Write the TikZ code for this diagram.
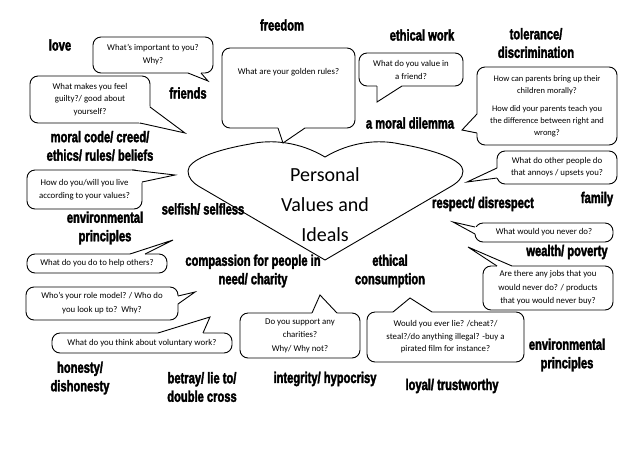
\documentclass[tikz,border=0pt]{standalone}
\usepackage{fontspec}
\setmainfont{Carlito}
\newfontfamily\kwfont{Liberation Sans}[FakeStretch=0.72,FakeBold=2.2]
\usetikzlibrary{calc}
\tikzset{
  kw/.style={font=\kwfont\bfseries\fontsize{15.5}{18.5}\selectfont, align=center, inner sep=0pt},
  qbox/.style={draw, line width=0.9pt, rounded corners=8pt, fill=white, align=center, inner sep=0pt,
    font=\fontsize{8.8}{13}\selectfont},
  qtext/.style={align=center, inner sep=0pt, font=\fontsize{8.8}{13}\selectfont},
  qline/.style={line width=0.9pt, line join=miter},
  heartline/.style={line width=0.9pt, fill=white}
}
\newcommand\qptr[4]{%
  \fill[white] (#1) -- (#2) -- (#3) -- ($(#3)+(#4)$) -- ($(#1)+(#4)$) -- cycle;
  \draw[qline] (#1) -- (#2) -- (#3);}
\begin{document}
\begin{tikzpicture}[x=1pt,y=-1pt]
\useasboundingbox (0,0) rectangle (638,451);
\fill[white] (0,0) rectangle (638,451);

% heart
\draw[heartline] (325,157) .. controls (300,142) and (272,139) .. (250,144)
  .. controls (215,150) and (188,160) .. (188,171)
  .. controls (188,178) and (193,183) .. (200,187)
  -- (325,260) -- (450,187)
  .. controls (457,183) and (463,178) .. (463,171)
  .. controls (463,160) and (435,150) .. (400,144)
  .. controls (378,139) and (350,142) .. (325,157) -- cycle;
\node[align=center, inner sep=0pt, font=\fontsize{20}{30}\selectfont] (title) at (325,205)
  {Personal\\Values and\\Ideals};

% callouts
\node[qbox, minimum width=120, minimum height=36] (q1) at (153,55) {What’s important to you?\\Why?};
\qptr{188,73}{208,81}{201,73}{0,-2}

\node[qbox, minimum width=120, minimum height=47, font=\fontsize{8.8}{12.5}\selectfont] (q2) at (90,99.5) {What makes you feel\\guilty?/ good about\\yourself?};
\qptr{150,107}{185,133}{140,123}{-2,-2}

\node[qbox, minimum width=133, minimum height=80] (q3) at (288.5,88) {};
\node[qtext] (q3t) at (288.5,72) {What are your golden rules?};
\qptr{278,128}{283,143}{305,128}{0,-2}

\node[qbox, minimum width=104, minimum height=33] (q4) at (411,69.5) {What do you value in\\a friend?};
\qptr{377,86}{377,102}{402,86}{0,-2}

\node[qbox, minimum width=140, minimum height=78, font=\fontsize{8.5}{12}\selectfont] (q5) at (547,106)
  {How can parents bring up their\\children morally?\\[6pt]How did your parents teach you\\the difference between right and\\wrong?};
\qptr{477,114}{462,130}{477,133}{2,0}

\node[qbox, minimum width=120, minimum height=33, font=\fontsize{8.8}{12}\selectfont] (q6) at (557,167.5) {What do other people do\\that annoys / upsets you?};
\qptr{497,168}{467,182}{497,178}{2,0}

\node[qbox, minimum width=138, minimum height=19] (q7) at (544,232.5) {What would you never do?};
\qptr{475,227}{453,222}{475,234}{2,0}

\node[qbox, minimum width=130, minimum height=44, font=\fontsize{8.8}{13.5}\selectfont] (q8) at (548,288) {Are there any jobs that you\\would never do? / products\\that you would never buy?};
\qptr{497,266}{468,247}{512,266}{0,2}

\node[qbox, minimum width=115, minimum height=39] (q9) at (84.5,189.5) {How do you/will you live\\according to your values?};
\qptr{132,170}{175,175}{142,182}{-2,2}

\node[qbox, minimum width=140, minimum height=19] (q10) at (97,263.5) {What do you do to help others?};
\qptr{130,254}{173,240}{145,254}{0,2}

\node[qbox, minimum width=152, minimum height=33, font=\fontsize{8.8}{14}\selectfont] (q11) at (102,303.5) {Who’s your role model? / Who do\\you look up to?\ \ Why?};
\qptr{178,296}{195,292}{178,304}{-2,0}

\node[qbox, minimum width=180, minimum height=20] (q12) at (142,343) {What do you think about voluntary work?};
\qptr{158,333}{210,317}{203,333}{0,2}

\node[qbox, minimum width=120, minimum height=45, font=\fontsize{8.8}{13.5}\selectfont] (q13) at (300,335.5) {Do you support any\\charities?\\Why/ Why not?};
\qptr{312,313}{320,295}{337,313}{0,2}

\node[qbox, minimum width=157, minimum height=50, font=\fontsize{8.8}{12.5}\selectfont] (q14) at (445.5,337) {Would you ever lie? /cheat?/\\steal?/do anything illegal? -buy a\\pirated film for instance?};
\qptr{393,312}{410,298}{432,312}{0,2}

% keywords
\node[kw] (k1) at (60,45) {love};
\node[kw] (k2) at (282,25) {freedom};
\node[kw] (k3) at (422,35) {ethical work};
\node[kw] (k4) at (536,43) {tolerance/\\discrimination};
\node[kw] (k5) at (188,93) {friends};
\node[kw] (k6) at (100,146) {moral code/ creed/\\ethics/ rules/ beliefs};
\node[kw] (k7) at (410,123) {a moral dilemma};
\node[kw] (k8) at (203,209) {selfish/ selfless};
\node[kw] (k9) at (105,228) {environmental\\principles};
\node[kw] (k10) at (483,204) {respect/ disrespect};
\node[kw] (k11) at (597,199) {family};
\node[kw] (k12) at (567,252) {wealth/ poverty};
\node[kw] (k13) at (253,271) {compassion for people in\\need/ charity};
\node[kw] (k14) at (390,271) {ethical\\consumption};
\node[kw] (k15) at (567,355) {environmental\\principles};
\node[kw] (k16) at (80,378) {honesty/\\dishonesty};
\node[kw] (k17) at (202,387) {betray/ lie to/\\double cross};
\node[kw] (k18) at (325,379) {integrity/ hypocrisy};
\node[kw] (k19) at (452,386) {loyal/ trustworthy};
\end{tikzpicture}
\end{document}
